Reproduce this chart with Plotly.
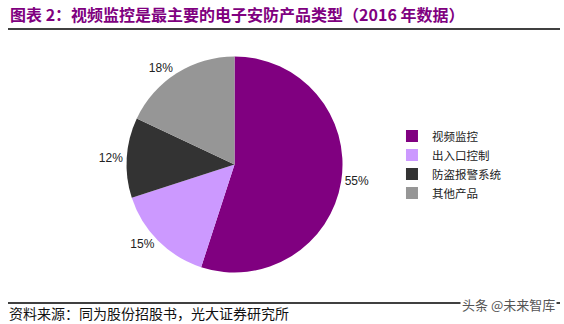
import plotly.graph_objects as go

# Product-type shares of the electronic security market, 2016
categories = ["视频监控", "出入口控制", "防盗报警系统", "其他产品"]
shares = [55, 15, 12, 18]
colors = ["#800080", "#CC99FF", "#333333", "#969696"]

title_text = "图表 2：视频监控是最主要的电子安防产品类型（2016 年数据）"
source_text = "资料来源：同为股份招股书，光大证券研究所"
watermark_text = "头条 @未来智库"

CJK = "Noto Sans CJK SC"

fig = go.Figure(
    go.Pie(
        labels=categories,
        values=shares,
        sort=False,
        direction="clockwise",
        rotation=0,
        marker=dict(colors=colors, line=dict(width=0)),
        texttemplate="%{value}%",
        textposition="outside",
        textfont=dict(family="Arial, Liberation Sans", size=12, color="#222222"),
        hoverinfo="label+percent",
        domain=dict(x=[0.2243, 0.6073], y=[0.159, 0.826]),
    )
)

fig.update_layout(
    width=564,
    height=324,
    margin=dict(l=0, r=0, t=0, b=0),
    paper_bgcolor="white",
    plot_bgcolor="white",
    showlegend=True,
    legend=dict(
        x=0.695,
        y=0.625,
        xanchor="left",
        yanchor="top",
        font=dict(family=CJK, size=11.5, color="#222222"),
        itemwidth=30,
        tracegroupgap=0,
        bgcolor="rgba(0,0,0,0)",
    ),
    shapes=[
        dict(type="line", xref="paper", yref="paper",
             x0=8 / 564, x1=560 / 564, y0=1 - 29 / 324, y1=1 - 29 / 324,
             line=dict(color="black", width=1.5)),
        dict(type="line", xref="paper", yref="paper",
             x0=8 / 564, x1=560 / 564, y0=1 - 303 / 324, y1=1 - 303 / 324,
             line=dict(color="black", width=1.5)),
    ],
    annotations=[
        dict(text=title_text, xref="paper", yref="paper",
             x=8 / 564, y=1 - 14 / 324, xanchor="left", yanchor="middle",
             showarrow=False,
             font=dict(family=CJK, size=16, color="#800080", weight="bold")),
        dict(text=source_text, xref="paper", yref="paper",
             x=8 / 564, y=1 - 313 / 324, xanchor="left", yanchor="middle",
             showarrow=False, borderpad=0,
             font=dict(family=CJK, size=14, color="#111111")),
        dict(text=watermark_text, xref="paper", yref="paper",
             x=557 / 564, y=1 - 304 / 324, xanchor="right", yanchor="middle",
             showarrow=False, bgcolor="white",
             font=dict(family=CJK, size=13, color="#555555")),
    ],
)

fig.write_html("out.html")
